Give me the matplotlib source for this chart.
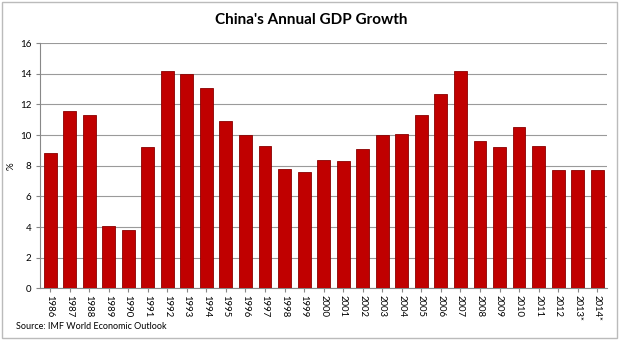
import numpy as np
import matplotlib.pyplot as plt
from matplotlib.patches import Rectangle

years = ['1986', '1987', '1988', '1989', '1990', '1991', '1992', '1993', '1994',
         '1995', '1996', '1997', '1998', '1999', '2000', '2001', '2002', '2003',
         '2004', '2005', '2006', '2007', '2008', '2009', '2010', '2011', '2012',
         '2013*', '2014*']
growth = [8.8, 11.6, 11.3, 4.1, 3.8, 9.2, 14.2, 14.0, 13.1,
          10.9, 10.0, 9.3, 7.8, 7.6, 8.4, 8.3, 9.1, 10.0,
          10.1, 11.3, 12.7, 14.2, 9.6, 9.2, 10.5, 9.3, 7.7,
          7.7, 7.7]

plt.rcParams['font.family'] = ['Lato', 'DejaVu Sans']

fig = plt.figure(figsize=(6.2, 3.4), dpi=100)
ax = fig.add_axes([0.065, 0.152, 0.914, 0.721])

x = np.arange(len(years))
ax.bar(x, growth, width=0.66, color='#c00000', edgecolor='#8a0000', linewidth=0.6, zorder=3)

ax.set_xlim(-0.5, len(years) - 0.5)
ax.set_ylim(0, 16)
ax.set_yticks(range(0, 17, 2))
ax.yaxis.grid(True, color='#9a9a9a', linewidth=0.8, zorder=0)
ax.set_xticks(x)
ax.set_xticklabels(years, rotation=270, fontsize=6.8)
ax.tick_params(axis='y', labelsize=7, length=3, color='#888888')
ax.tick_params(axis='x', length=3, color='#888888', pad=2)
for s in ['top', 'right']:
    ax.spines[s].set_visible(False)
for s in ['left', 'bottom']:
    ax.spines[s].set_color('#888888')
ax.set_ylabel('%', fontsize=7, labelpad=3)

fig.text(0.502, 0.94, "China's Annual GDP Growth", ha='center', va='center',
         fontsize=11, fontweight='bold')
fig.text(0.025, 0.04, 'Source: IMF World Economic Outlook', ha='left', va='center',
         fontsize=6.5)

fig.add_artist(Rectangle((0.003, 0.005), 0.992, 0.988, transform=fig.transFigure,
                         fill=False, edgecolor='#bbbbbb', linewidth=1))

fig.savefig('out.png', dpi=100)
